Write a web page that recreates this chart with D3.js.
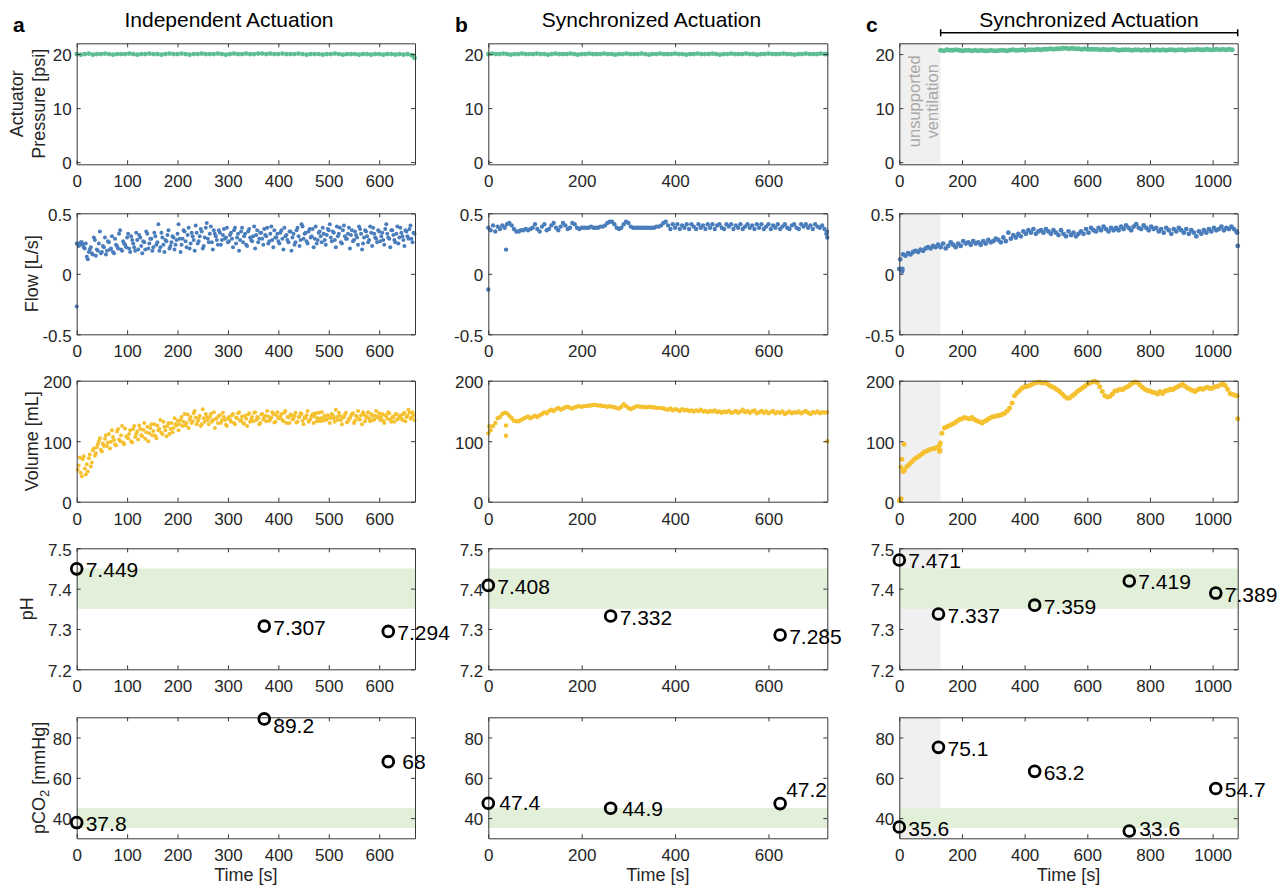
<!DOCTYPE html>
<html>
<head>
<meta charset="utf-8">
<script src="https://cdn.jsdelivr.net/npm/d3@7"></script>
<style>
  body { margin: 0; background: #fff; }
  text { font-family: "Liberation Sans", Arial, Helvetica, sans-serif; }
</style>
</head>
<body>
<svg id="chart" width="1288" height="890"></svg>
<script>
// ---- data ----
const titles = ["Independent Actuation", "Synchronized Actuation", "Synchronized Actuation"]
const panelLetters = ["a", "b", "c"]
const timeDomains = [[0, 671], [0, 726], [0, 1080]]
const timeTicks = [[0, 100, 200, 300, 400, 500, 600], [0, 200, 400, 600], [0, 200, 400, 600, 800, 1000]]
const unsupportedEnd = 132   // column c: unsupported ventilation 0..132 s

const pressTicks = [0, 10, 20]
const flowTicks = [-0.5, 0, 0.5]
const volTicks = [0, 100, 200]
const phTicks = [7.2, 7.3, 7.4, 7.5]
const pco2Ticks = [40, 60, 80]
const phNormal = [7.35, 7.45]
const pco2Normal = [35, 45]

// actuator pressure [psi], sampled every 8 s (a, b) / 10 s (c)
const pressA = [20.0,19.9,20.0,20.1,19.9,20.0,20.0,20.1,20.0,19.9,20.0,20.0,
  20.0,20.1,20.0,19.9,20.0,20.0,20.1,20.0,20.0,19.9,20.0,20.1,
  20.0,20.0,20.1,20.0,19.9,20.0,20.0,20.1,20.0,20.0,20.0,20.1,
  20.0,19.9,20.0,20.1,20.0,20.0,20.1,20.0,20.0,20.1,20.1,20.0,
  20.1,20.0,20.0,20.1,20.0,20.0,20.0,20.1,20.0,19.9,20.0,20.0,
  20.0,19.9,20.0,20.0,20.1,20.0,19.9,20.0,20.0,20.0,19.9,20.0,
  20.0,19.9,20.0,20.0,19.9,20.0,20.0,19.9,20.0,19.9,20.0,19.8]
const pressAExtra = [[668, 19.7], [670, 19.3]]
const pressB = [20.0,20.1,20.0,20.0,20.1,20.0,19.9,20.0,20.0,20.1,20.0,20.0,20.0,
  20.1,20.0,20.0,19.9,20.0,20.1,20.0,20.0,20.0,20.1,20.0,19.9,20.0,
  20.0,20.1,20.0,20.0,20.0,20.1,20.0,20.0,19.9,20.0,20.0,20.1,20.0,
  20.0,20.0,20.1,20.0,19.9,20.0,20.0,20.1,20.0,20.0,20.0,20.1,20.0,
  20.0,19.9,20.0,20.0,20.1,20.0,20.0,20.0,20.1,20.0,19.9,20.0,20.0,
  20.1,20.0,20.0,20.0,20.1,20.0,20.0,19.9,20.0,20.0,20.1,20.0,20.0,
  20.0,20.1,20.0,20.0,19.9,20.0,20.0,20.1,20.0,20.0,20.0,20.1,20.0]
const pressBExtra = [[724, 20.0]]
const pressC = [20.7,20.6,20.8,20.7,20.7,20.8,20.7,20.6,20.7,20.7,
  20.6,20.7,20.6,20.7,20.6,20.6,20.7,20.6,20.6,20.7,
  20.7,20.6,20.7,20.8,20.7,20.7,20.8,20.7,20.8,20.8,
  20.8,20.9,20.8,20.9,20.9,21.0,20.9,21.0,21.0,21.1,
  21.1,21.0,21.1,21.0,21.0,20.9,21.0,20.9,20.9,20.9,
  20.9,20.8,20.9,20.8,20.8,20.9,20.8,20.7,20.8,20.8,
  20.8,20.7,20.8,20.8,20.7,20.8,20.7,20.8,20.7,20.8,
  20.7,20.8,20.7,20.8,20.8,20.7,20.8,20.8,20.7,20.8,
  20.8,20.8,20.9,20.8,20.8,20.9,20.8,20.8,20.9,20.8,
  20.9,20.8,20.9,20.8]

// flow [L/s]; column a has two interleaved breath series (every 4 s, offset 2 s)
const flowA = [0.25,0.24,0.26,0.22,0.25, 0.12,0.20,0.17,0.30,0.15,
  0.19,0.35,0.18,0.22,0.16,0.27,0.20,0.31,0.17,0.24,0.21,0.36,0.19,0.25,0.22,
  0.33,0.18,0.28,0.22,0.34,0.20,0.30,0.17,0.26,0.35,0.21,0.29,0.19,0.34,0.24,0.41,0.22,0.30,0.18,0.27,0.36,0.23,0.31,0.20,0.28,
  0.41,0.18,0.29,0.35,0.22,0.38,0.25,0.31,0.19,0.34,0.27,0.37,0.21,0.30,0.42,0.26,0.39,0.20,0.33,0.28,0.36,0.24,0.32,0.29,0.38,
  0.27,0.34,0.22,0.38,0.30,0.19,0.35,0.26,0.33,0.23,0.37,0.28,0.31,0.21,0.36,0.29,0.34,0.24,0.32,0.38,0.27,0.39,0.22,0.30,0.33,
  0.25,0.36,0.20,0.31,0.28,0.35,0.19,0.33,0.26,0.38,0.23,0.41,0.29,0.34,0.25,0.37,0.31,0.22,0.39,0.28,0.35,0.26,0.33,0.24,0.37,
  0.41,0.27,0.34,0.22,0.31,0.38,0.25,0.40,0.29,0.33,0.21,0.36,0.28,0.32,0.24,0.37,0.20,0.30,0.35,0.26,0.39,0.23,0.33,0.29,0.36,
  0.27,0.34,0.24,0.41,0.30,0.22,0.36,0.28,0.33,0.25,0.38,0.31,0.23,0.35,0.29,0.40,0.26,0.33]
const flowA2 = [0.23,0.26,0.24,0.21,0.14,0.18,0.22,0.16,0.28,0.20,0.25,0.17,0.23,0.30,0.19,0.26,0.21,0.18,0.29,0.23,0.33,0.20,0.27,0.24,0.30,
  0.21,0.31,0.25,0.19,0.28,0.32,0.23,0.27,0.20,0.33,0.25,0.29,0.22,0.31,0.26,0.19,0.34,0.24,0.28,0.32,0.21,0.26,0.30,0.24,0.33,
  0.29,0.24,0.36,0.27,0.32,0.21,0.34,0.28,0.40,0.25,0.31,0.35,0.23,0.38,0.29,0.33,0.26,0.36,0.31,0.24,0.34,0.28,0.37,0.30,0.26,
  0.32,0.29,0.36,0.25,0.33,0.28,0.38,0.31,0.24,0.35,0.30,0.27,0.39,0.32,0.26,0.34,0.29,0.37,0.31,0.25,0.33,0.28,0.36,0.30,0.27,
  0.34,0.29,0.38,0.32,0.26,0.35,0.30,0.24,0.36,0.31,0.28,0.39,0.33,0.27,0.35,0.30,0.37,0.29,0.25,0.34,0.31,0.38,0.28,0.32,0.36,
  0.30,0.35,0.28,0.39,0.33,0.26,0.36,0.31,0.29,0.38,0.32,0.27,0.35,0.30,0.39,0.33,0.25,0.36,0.31,0.28,0.34,0.38,0.30,0.26,0.35,
  0.31,0.28,0.37,0.33,0.29,0.36,0.32,0.26,0.39,0.30,0.34,0.28,0.36,0.31,0.37,0.29,0.34]
const flowAExtra = [[0, -0.27], [0, 0.25]]
const flowB = [0.38,0.36,0.40,0.35,0.39,0.37,0.40, 0.38,0.41,0.42,0.40,0.37,0.35,
  0.35,0.36,0.36,0.37,0.36,0.37,0.38,
  0.41,0.37,0.35,0.39,0.41,0.36,0.37,0.40,0.42,0.38,0.36,0.39,0.42,0.40,0.37,0.38,0.42,0.41,0.38,0.37,
  0.38,0.38,0.38,0.38,0.39,0.38,0.38,0.38,0.39,0.39,0.40,0.42,
  0.43,0.43,0.41,0.38,0.37,0.38,0.41,0.43,0.42,0.39,
  0.38,0.38,0.38,0.38,0.38,0.38,0.38,0.38,0.38,0.38,0.39,0.39,0.40,0.42,
  0.43,0.40,0.37,0.41,0.38,0.41,0.37,0.40,0.38,0.41,0.37,0.41,0.39,0.37,0.41,0.38,0.40,0.37,0.41,0.38,
  0.41,0.37,0.40,0.41,0.38,0.37,0.41,0.39,0.41,0.37,0.40,0.38,0.41,0.37,0.39,0.41,0.38,0.40,0.37,0.41,
  0.38,0.41,0.37,0.39,0.41,0.37,0.40,0.38,0.41,0.37,0.39,0.41,0.38,0.37,0.40,0.41,0.38,0.37,0.41,0.39,
  0.41,0.38,0.40,0.37,0.41,0.39,0.38,0.40,0.37,0.35]
const flowBExtra = [[0, -0.13], [38, 0.20], [724, 0.33], [726, 0.30]]
const flowC = [0.16,0.15,0.17,0.16,0.18,0.19,0.18,0.20,0.19,0.21,0.22,0.21,0.23,0.22,0.24,
  0.22,0.25,0.21,0.23,0.26,0.24,0.22,0.25,0.23,0.27,0.25,
  0.26,0.24,0.27,0.25,0.26,0.24,0.27,0.25,0.28,0.26,0.27,0.29,
  0.28,0.26,0.30,0.27,0.34,0.29,0.32,0.30,0.33,0.31,0.35,
  0.33,0.36,0.34,0.37,0.33,0.35,0.36,0.34,0.37,0.35,0.33,0.36,
  0.34,0.32,0.36,0.33,0.31,0.35,0.32,0.34,0.31,0.33,
  0.35,0.33,0.37,0.34,0.38,0.36,0.35,0.38,0.36,0.39,0.37,0.35,0.38,0.36,
  0.38,0.36,0.39,0.37,0.40,0.38,0.36,0.39,0.41,0.38,0.37,0.40,0.38,0.36,
  0.39,0.37,0.38,0.35,0.37,0.34,0.38,0.36,0.33,0.37,0.35,0.38,0.36,0.34,
  0.37,0.33,0.36,0.34,0.31,0.35,0.33,0.36,0.34,0.37,0.35,0.38,0.36,0.37,
  0.39,0.36,0.38,0.37,0.39,0.37,0.35]
const flowCExtra = [[0, 0.04], [3, 0.12], [6, 0.03], [9, 0.02], [10, 0.04], [1078, 0.34], [1080, 0.23]]

// tidal volume [mL]
const volA = [53,73,42,75,45, 50,78,65,88,80,
  95,105,83,92,110,98,88,118,102,93,120,100,125,95,108,
  105,118,98,125,112,103,120,108,130,115,100,122,110,128,105,118,135,112,124,108,130,120,115,138,126,
  118,135,125,145,130,122,140,133,150,128,137,125,153,132,140,128,145,135,122,138,142,130,147,135,125,
  140,132,145,128,138,148,135,130,142,125,146,137,133,148,140,128,144,136,142,150,134,139,145,132,148,
  138,145,133,150,140,130,143,137,147,132,140,145,128,138,150,135,142,130,146,138,133,148,140,135,143,
  130,145,138,152,135,142,128,140,147,133,138,145,130,142,150,136,128,144,139,148,133,142,136,150,140,
  135,145,130,142,148,136,140,132,145,138,143,135,147,140,152,137,148,135]
const volA2 = [60,48,70,55,62,72,58,85,76,90,100,86,96,104,92,112,99,107,95,116,103,110,98,121,106,
  112,100,120,107,116,126,110,119,104,124,113,128,117,109,126,120,114,132,118,125,112,130,122,128,134,
  128,140,132,126,144,136,130,146,139,133,142,128,138,145,135,140,132,148,137,130,143,135,140,127,137,
  136,143,130,139,146,134,141,129,137,144,132,140,147,135,138,130,145,140,133,141,136,148,131,143,138,
  141,135,147,130,139,144,136,142,131,140,146,134,139,143,132,137,145,141,133,147,138,134,142,136,140,
  138,143,132,140,147,135,139,144,131,137,142,146,134,140,136,143,148,133,141,137,145,135,142,139,146,
  140,134,143,137,146,132,139,144,136,141,138,145,133,142,147,139,143]
const volB = [113,118,125,130,138,140,145, 147,146,142,138,134,133,
  133,135,137,139,141,138,140,
  142,140,143,145,148,146,150,152,150,153,155,152,154,156,157,155,154,156,157,158,
  157,158,158,159,159,160,160,159,159,158,158,157,
  158,157,156,155,154,157,161,158,155,153,
  155,157,158,157,157,156,156,157,156,156,155,155,155,154,
  153,152,154,151,153,152,150,153,151,152,150,151,149,151,150,152,149,150,148,150,
  149,151,148,149,147,149,148,150,147,148,150,147,149,152,148,150,147,149,151,146,
  148,150,147,149,146,148,150,146,148,147,149,145,147,149,146,148,147,149,146,148,
  150,147,145,148,147,149,146,148,147,148]
const volBExtra = [[2, 125], [38, 126], [38, 109], [726, 100]]
const volC = [52,58,62,66,70,73,76,79,82,84,86,87,88,90,93,
  113,122,124,126,128,130,133,136,137,139,138,
  137,139,136,134,132,130,133,135,138,140,141,142,
  143,144,146,150,155,163,175,180,184,188,190,
  191,192,194,196,197,198,196,197,195,192,190,188,
  185,182,178,174,171,172,175,178,182,185,
  188,191,194,196,198,199,197,190,182,175,173,174,178,183,
  184,186,185,188,190,193,196,198,197,193,189,186,184,183,
  181,180,178,182,179,183,184,186,185,188,190,192,194,191,
  188,186,184,182,185,187,186,188,189,187,188,190,191,193,
  195,192,186,179,177,176]
const volCExtra = [[0, 2], [3, 4], [6, 5], [5, 57], [8, 70], [12, 50], [15, 95],
  [128, 83], [130, 85], [131, 97], [1078, 175], [1080, 137]]

// blood gas samples
const gasTimes = [[0, 372, 618], [0, 262, 625], [0, 125, 432, 734, 1010]]
const phValues = [[7.449, 7.307, 7.294], [7.408, 7.332, 7.285], [7.471, 7.337, 7.359, 7.419, 7.389]]
const pco2Values = [[37.8, 89.2, 68], [47.4, 44.9, 47.2], [35.6, 75.1, 63.2, 33.6, 54.7]]

// ---- layout ----
const svg = d3.select("#chart")
const colX = [[76.7, 415], [488.3, 827.3], [899.3, 1237.7]]
const rowTop = [43.3, 213.3, 380.7, 548.3, 717.3]
const rowH = 121
const axisColor = "#383838"
const tickFont = 17

const green = "#5dbe93", blue = "#4a7dbb", yellow = "#f5c130"

function regular(t0, dt, vals) { return vals.map((v, i) => [t0 + i * dt, v]) }

// dot radius per column: the dense, smooth runs in b and c look like thick bands
const cells = [
  { dom: [-0.4, 22], ticks: pressTicks, fmt: d => d, color: green, r: [2.4, 2.4, 2.5],
    pts: [regular(0, 8, pressA).concat(pressAExtra), regular(0, 8, pressB).concat(pressBExtra), regular(132, 10, pressC)] },
  { dom: [-0.5, 0.5], ticks: flowTicks, fmt: d => d, color: blue, r: [2, 2.2, 2.4],
    pts: [regular(2, 4, flowA).concat(regular(4, 4, flowA2), flowAExtra),
          regular(0, 5, flowB).concat(flowBExtra), regular(12, 8, flowC).concat(flowCExtra)] },
  { dom: [0, 200], ticks: volTicks, fmt: d => d, color: yellow, r: [2, 2.2, 2.5],
    pts: [regular(2, 4, volA).concat(regular(4, 4, volA2)), regular(0, 5, volB).concat(volBExtra),
          regular(16, 8, volC).concat(volCExtra)] },
  { dom: [7.2, 7.5], ticks: phTicks, fmt: d3.format(".1f"), band: phNormal, gas: phValues },
  { dom: [30, 90], ticks: pco2Ticks, fmt: d => d, band: pco2Normal, gas: pco2Values }
]

// label nudges [dx, dy-to-baseline] for blood gas labels that are not placed at the default spot
const nudges = { "4-0-1": [9, 14], "4-0-2": [14, 7.3], "4-1-0": [11, 7], "4-1-1": [11.5, 7.7], "4-1-2": [6, -7], "4-2-3": [10, 5] }

function drawCell(ri, ci) {
  const c = cells[ri]
  const top = rowTop[ri], bot = top + rowH
  const x = d3.scaleLinear().domain(timeDomains[ci]).range(colX[ci])
  const y = d3.scaleLinear().domain(c.dom).range([bot, top])
  const g = svg.append("g")

  if (ci === 2) {
    g.append("rect").attr("x", x(0)).attr("y", top)
      .attr("width", x(unsupportedEnd) - x(0)).attr("height", rowH).attr("fill", "#f0f0f0")
  }
  if (c.band) {
    g.append("rect").attr("x", x.range()[0]).attr("y", y(c.band[1]))
      .attr("width", x.range()[1] - x.range()[0]).attr("height", y(c.band[0]) - y(c.band[1]))
      .attr("fill", "#e2efd9")
  }

  if (c.pts) {
    g.append("g").selectAll("circle").data(c.pts[ci]).join("circle")
      .attr("cx", d => x(d[0])).attr("cy", d => y(d[1]))
      .attr("r", c.r[ci]).attr("fill", c.color)
  }

  // box with inward ticks on all sides
  const tickLen = -4
  g.append("g").attr("transform", `translate(0,${bot})`)
    .call(d3.axisBottom(x).tickValues(timeTicks[ci]).tickSize(tickLen).tickSizeOuter(0)
      .tickPadding(11).tickFormat(d3.format("d")))
  g.append("g").attr("transform", `translate(0,${top})`)
    .call(d3.axisTop(x).tickValues(timeTicks[ci]).tickSize(tickLen).tickSizeOuter(0).tickFormat(""))
  const left = g.append("g").attr("transform", `translate(${x.range()[0]},0)`)
    .call(d3.axisLeft(y).tickValues(c.ticks).tickSize(tickLen).tickSizeOuter(0).tickPadding(5).tickFormat(c.fmt))
  g.append("g").attr("transform", `translate(${x.range()[1]},0)`)
    .call(d3.axisRight(y).tickValues(c.ticks).tickSize(tickLen).tickSizeOuter(0).tickFormat(""))

  g.selectAll(".domain, .tick line").attr("stroke", axisColor).attr("stroke-width", 1)
  g.selectAll(".tick text").attr("fill", "#262626").attr("font-size", tickFont)
    .attr("font-family", "Liberation Sans, Arial, sans-serif")
  left.selectAll(".tick text").attr("dy", "0.4em")

  if (c.gas) {
    const samples = c.gas[ci].map((v, i) => {
      const n = nudges[`${ri}-${ci}-${i}`] || [9, 8.5]
      return { t: gasTimes[ci][i], v: v, dx: n[0], dy: n[1] }
    })
    g.selectAll("circle.gas").data(samples).join("circle").attr("class", "gas")
      .attr("cx", d => x(d.t)).attr("cy", d => y(d.v)).attr("r", 5.4)
      .attr("fill", "none").attr("stroke", "#000").attr("stroke-width", 2.8)
    g.selectAll("text.gas").data(samples).join("text").attr("class", "gas")
      .attr("x", d => x(d.t) + d.dx).attr("y", d => y(d.v) + d.dy)
      .attr("font-size", 21).attr("fill", "#000")
      .text(d => String(d.v))
  }

  if (ri === 4) {
    g.append("text").attr("x", (x.range()[0] + x.range()[1]) / 2).attr("y", 881)
      .attr("text-anchor", "middle").attr("font-size", 18).attr("fill", "#262626").text("Time [s]")
  }
  return x
}

let xC
for (let ri = 0; ri < 5; ri++) {
  for (let ci = 0; ci < 3; ci++) {
    const x = drawCell(ri, ci)
    if (ci === 2 && ri === 0) xC = x
  }
}

// y axis labels (column a only)
function yLabel(bx, row, parts) {
  const cy = rowTop[row] + rowH / 2
  const t = svg.append("text").attr("transform", `translate(${bx},${cy}) rotate(-90)`)
    .attr("text-anchor", "middle").attr("font-size", 18).attr("fill", "#262626")
  parts.forEach(p => {
    const s = t.append("tspan").text(p.text)
    if (p.sub) s.attr("font-size", 13).attr("dy", 4)
    if (p.after) s.attr("dy", -4)
  })
}
yLabel(23, 0, [{ text: "Actuator" }])
yLabel(44.5, 0, [{ text: "Pressure [psi]" }])
yLabel(37.5, 1, [{ text: "Flow [L/s]" }])
yLabel(38, 2, [{ text: "Volume [mL]" }])
yLabel(33, 3, [{ text: "pH" }])
yLabel(45, 4, [{ text: "pCO" }, { text: "2", sub: true }, { text: " [mmHg]", after: true }])

// column titles and panel letters
const titleX = [229, 651.5, 1089]
const letterX = [13, 455, 866]
titles.forEach((t, i) => {
  svg.append("text").attr("x", titleX[i]).attr("y", 26.5).attr("text-anchor", "middle")
    .attr("font-size", 21).attr("fill", "#000").text(t)
  svg.append("text").attr("x", letterX[i]).attr("y", 32).attr("font-size", 21)
    .attr("font-weight", "bold").attr("fill", "#000").text(panelLetters[i])
})

// bracket over synchronized part of column c
const bx0 = xC(unsupportedEnd), bx1 = xC(timeDomains[2][1]), by = 32.7
svg.append("path")
  .attr("d", `M${bx0},${by - 3.5}V${by + 3.5}M${bx0},${by}H${bx1}M${bx1},${by - 3.5}V${by + 3.5}`)
  .attr("stroke", "#000").attr("stroke-width", 1.5).attr("fill", "none")

// unsupported ventilation note
const noteY = rowTop[0] + 58
svg.append("text").attr("transform", `translate(920,${noteY}) rotate(-90)`).attr("text-anchor", "middle")
  .attr("font-size", 16.5).attr("fill", "#a8a8a8").text("unsupported")
svg.append("text").attr("transform", `translate(937.5,${noteY}) rotate(-90)`).attr("text-anchor", "middle")
  .attr("font-size", 16.5).attr("fill", "#a8a8a8").text("ventilation")
</script>
</body>
</html>
